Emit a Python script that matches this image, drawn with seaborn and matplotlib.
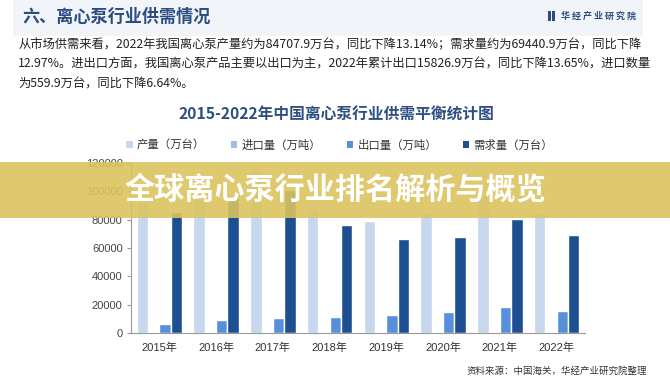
import numpy as np
import pandas as pd
import matplotlib
matplotlib.use("Agg")
import matplotlib.pyplot as plt
import seaborn as sns
from matplotlib.patches import Rectangle, Patch

# ---- data ----
years = ['2015年', '2016年', '2017年', '2018年', '2019年', '2020年', '2021年', '2022年']
production = [92700, 93900, 115000, 87300, 79000, 85000, 97500, 84708]
imports = [650, 700, 720, 680, 640, 620, 600, 560]
exports = [6600, 9400, 10600, 11300, 12700, 14600, 18300, 15827]
demand = [85600, 96200, 101000, 76200, 66100, 67500, 80300, 69441]
series_names = ['产量（万台）', '进口量（万吨）', '出口量（万吨）', '需求量（万台）']
colors = ['#c6d7ee', '#a4bde3', '#5690dc', '#1e4f91']
y_ticks = [0, 20000, 40000, 60000, 80000, 100000, 120000]

header = '六、离心泵行业供需情况'
para = ['从市场供需来看，2022年我国离心泵产量约为84707.9万台，同比下降13.14%；需求量约为69440.9万台，同比下降',
        '12.97%。进出口方面，我国离心泵产品主要以出口为主，2022年累计出口15826.9万台，同比下降13.65%，进口数量',
        '为559.9万台，同比下降6.64%。']
chart_title = '2015-2022年中国离心泵行业供需平衡统计图'
source = '资料来源：中国海关，华经产业研究院整理'
banner = '全球离心泵行业排名解析与概览'
brand = '华 经 产 业 研 究 院'

df = pd.DataFrame({
    'year': years * 4,
    'series': sum([[s] * len(years) for s in series_names], []),
    'value': production + imports + exports + demand,
})

sns.set_theme(style='white')
plt.rcParams['font.family'] = ['Liberation Sans', 'Noto Sans CJK SC', 'DejaVu Sans']

fig = plt.figure(figsize=(6.7, 3.8), dpi=100)
fig.patch.set_facecolor('white')

# header band
fig.add_artist(Rectangle((0.02, 0.905), 0.94, 0.095, transform=fig.transFigure,
                         facecolor='#f1f4f9', edgecolor='none', zorder=0))
fig.text(0.033, 0.955, header, fontsize=12.3, fontweight='bold', color='#2c4d80',
         family=['Noto Sans CJK SC'], va='center', ha='left')
fig.add_artist(Rectangle((0.818, 0.945), 0.004, 0.025, transform=fig.transFigure,
                         facecolor='#2c4d80', edgecolor='none'))
fig.add_artist(Rectangle((0.824, 0.945), 0.004, 0.025, transform=fig.transFigure,
                         facecolor='#2c4d80', edgecolor='none'))
fig.text(0.838, 0.957, brand, fontsize=6.5, fontweight='bold', color='#2c4d80',
         family=['Noto Sans CJK SC'], va='center', ha='left')

for i, line in enumerate(para):
    fig.text(0.027, 0.882 - i * 0.051, line, fontsize=8.85, color='#222222',
             family=['Noto Sans CJK SC'], va='center', ha='left')

fig.text(0.502, 0.697, chart_title, fontsize=11.3, fontweight='bold', color='#2e4f7f',
         family=['Noto Sans CJK SC'], va='center', ha='center')

ax = fig.add_axes([0.1955, 0.1237, 0.6776, 0.4474])
sns.barplot(data=df, x='year', y='value', hue='series', palette=colors,
            hue_order=series_names, order=years, width=0.8, saturation=1,
            errorbar=None, legend=False, ax=ax)
ax.set_ylim(0, 120000)
ax.set_yticks(y_ticks)
ax.set_yticklabels([str(v) for v in y_ticks])
ax.set_xlim(-0.5, len(years) - 0.5)
ax.set_xlabel('')
ax.set_ylabel('')
ax.set_xticks(np.arange(-0.5, len(years), 1), minor=True)
ax.tick_params(axis='x', which='major', length=0, pad=7, labelsize=8, labelcolor='#333333')
ax.tick_params(axis='x', which='minor', length=4, direction='out', color='#999999', width=0.8)
ax.tick_params(axis='y', length=3, direction='out', color='#999999', width=0.8,
               labelsize=8, labelcolor='#444444', pad=3, left=True)
for s in ['top', 'right']:
    ax.spines[s].set_visible(False)
for s in ['left', 'bottom']:
    ax.spines[s].set_color('#999999')
    ax.spines[s].set_linewidth(0.8)

handles = [Patch(facecolor=c, edgecolor='none') for c in colors]
fig.legend(handles, series_names, ncol=4, loc='center', bbox_to_anchor=(0.507, 0.618),
           frameon=False, handlelength=0.55, handleheight=0.55, handletextpad=0.35,
           columnspacing=2.3, prop={'family': ['Noto Sans CJK SC'], 'size': 8.2},
           labelcolor='#333333')

fig.text(0.966, 0.024, source, fontsize=6.8, color='#333333',
         family=['Noto Sans CJK SC'], va='center', ha='right')

# overlay banner
fig.add_artist(Rectangle((0, 0.426), 1, 0.148, transform=fig.transFigure,
                         facecolor='#dbc35f', edgecolor='none', alpha=0.9, zorder=10))
fig.text(0.5, 0.5, banner, fontsize=21.7, fontweight='bold', color='white',
         family=['Noto Sans CJK SC'], va='center', ha='center', zorder=11)

fig.savefig('out.png', dpi=100)
